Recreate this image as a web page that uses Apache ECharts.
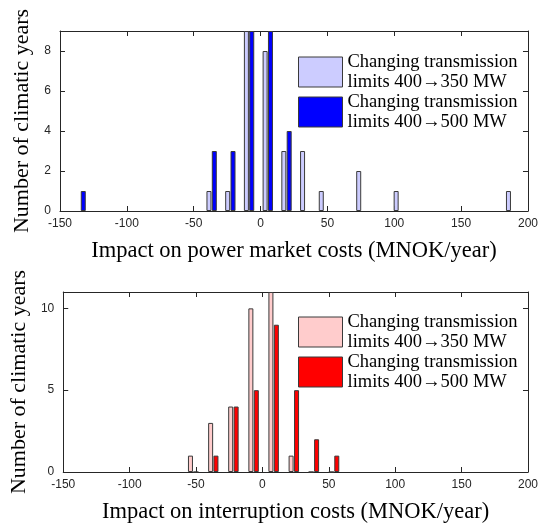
<!DOCTYPE html>
<html>
<head>
<meta charset="utf-8">
<script src="https://cdn.jsdelivr.net/npm/echarts@6/dist/echarts.min.js"></script>
<style>
html,body{margin:0;padding:0;background:#fff;}
#chart{width:541px;height:525px;}
</style>
</head>
<body>
<div id="chart"></div>
<script>
// ---- Data ----
// Top panel: impact on power market costs (MNOK/year)
var topLightX = [-38.6, -24.6, -10.6, 3.4, 17.4, 31.4, 45.4, 73.4, 101.4, 185.4];
var topLightY = [1, 1, 9, 8, 3, 3, 1, 2, 1, 1];
var topDarkX  = [-132.6, -34.6, -20.6, -6.6, 7.4, 21.4];
var topDarkY  = [1, 3, 3, 9, 9, 4];
// Bottom panel: impact on interruption costs (MNOK/year)
var botLightX = [-54.2, -39.0, -23.9, -8.7, 6.4, 21.6, 36.7, 51.9];
var botLightY = [1, 3, 4, 10, 11, 1, 0, 0];
var botDarkX  = [-50.1, -35.0, -19.8, -4.6, 10.5, 25.7, 40.8, 56.0];
var botDarkY  = [0, 1, 4, 5, 9, 5, 2, 1];

var seriesNames = [
  'Changing transmission\nlimits 400\u2192350 MW',
  'Changing transmission\nlimits 400\u2192500 MW'
];
var xTitles = ['Impact on power market costs (MNOK/year)', 'Impact on interruption costs (MNOK/year)'];
var yTitle = 'Number of climatic years';
var xMin = -150, xMax = 200, xInterval = 50;
var yMaxes = [9, 11], yIntervals = [2, 5];

function pairs(xs, ys) { return xs.map(function (x, i) { return [x, ys[i]]; }); }

var serif = 'Liberation Serif';
var sans = 'Liberation Sans';
var axisColor = '#262626';
var edge = '#3a3a3a';

var grids = [
  { left: 60, right: 6, top: 31, height: 180 },
  { left: 60, right: 6, top: 292, height: 180 }
];

var xAxes = [], yAxes = [];
[0, 1].forEach(function (g) {
  xAxes.push({
    type: 'value', gridIndex: g, position: 'bottom', min: xMin, max: xMax, interval: xInterval,
    name: xTitles[g], nameLocation: 'middle', nameGap: 29,
    nameTextStyle: { fontFamily: serif, fontSize: 22.5, color: '#000' },
    axisLine: { onZero: false, lineStyle: { color: axisColor, width: 1 } },
    axisTick: { inside: true, length: 5, lineStyle: { color: axisColor } },
    axisLabel: { fontFamily: sans, fontSize: 12, color: axisColor, margin: 7 },
    splitLine: { show: false }
  });
  xAxes.push({
    type: 'value', gridIndex: g, position: 'top', min: xMin, max: xMax, interval: xInterval,
    axisLine: { onZero: false, lineStyle: { color: axisColor, width: 1 } },
    axisTick: { inside: true, length: 5, lineStyle: { color: axisColor } },
    axisLabel: { show: false }, splitLine: { show: false }
  });
  yAxes.push({
    type: 'value', gridIndex: g, position: 'left', min: 0, max: yMaxes[g], interval: yIntervals[g],
    name: yTitle, nameLocation: 'middle', nameGap: 18,
    nameTextStyle: { fontFamily: serif, fontSize: 22, color: '#000' },
    axisLine: { show: true, onZero: false, lineStyle: { color: axisColor, width: 1 } },
    axisTick: { show: true, inside: true, length: 5, lineStyle: { color: axisColor } },
    axisLabel: { fontFamily: sans, fontSize: 12, color: axisColor, margin: 9, showMaxLabel: false },
    splitLine: { show: false }
  });
  yAxes.push({
    type: 'value', gridIndex: g, position: 'right', min: 0, max: yMaxes[g], interval: yIntervals[g],
    axisLine: { show: true, onZero: false, lineStyle: { color: axisColor, width: 1 } },
    axisTick: { show: true, inside: true, length: 5, lineStyle: { color: axisColor } },
    axisLabel: { show: false }, splitLine: { show: false }
  });
});

var colors = [
  ['#ccccff', '#0000ff'],
  ['#ffcccc', '#ff0000']
];
var dataSets = [
  [pairs(topLightX, topLightY), pairs(topDarkX, topDarkY)],
  [pairs(botLightX, botLightY), pairs(botDarkX, botDarkY)]
];

var series = [];
[0, 1].forEach(function (g) {
  [0, 1].forEach(function (s) {
    series.push({
      type: 'bar', name: seriesNames[s] + (g === 1 ? ' ' : ''),
      xAxisIndex: g * 2, yAxisIndex: g * 2,
      data: dataSets[g][s],
      barWidth: 5, barGap: '-100%',
      itemStyle: { color: colors[g][s], borderColor: edge, borderWidth: 1 },
      emphasis: { disabled: true },
      animation: false
    });
  });
});

var legends = [0, 1].map(function (g) {
  return {
    orient: 'vertical', left: 293, top: g === 0 ? 47 : 307,
    itemWidth: 44, itemHeight: 30, itemGap: 0,
    icon: 'rect',
    selectedMode: false,
    data: [
      { name: seriesNames[0] + (g === 1 ? ' ' : ''), itemStyle: { color: colors[g][0], borderColor: edge, borderWidth: 1 } },
      { name: seriesNames[1] + (g === 1 ? ' ' : ''), itemStyle: { color: colors[g][1], borderColor: edge, borderWidth: 1 } }
    ],
    formatter: function (n) { return n.replace(/ $/, ''); },
    textStyle: { fontFamily: serif, fontSize: 18.5, lineHeight: 20, color: '#000' }
  };
});

var chart = echarts.init(document.getElementById('chart'), null, { renderer: 'canvas' });
chart.setOption({
  backgroundColor: '#fff',
  animation: false,
  grid: grids,
  xAxis: xAxes,
  yAxis: yAxes,
  legend: legends,
  series: series
});
</script>
</body>
</html>
